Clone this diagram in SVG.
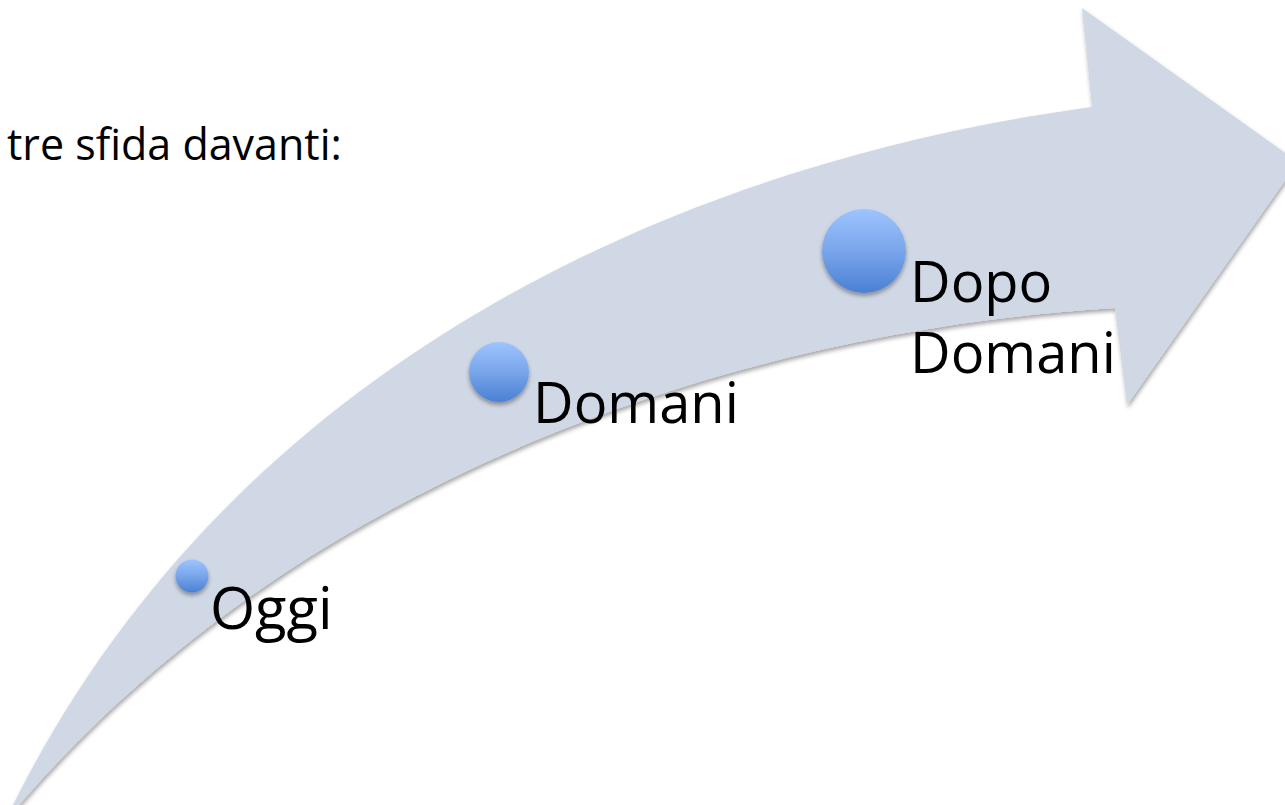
<svg xmlns="http://www.w3.org/2000/svg" width="1285" height="805" viewBox="0 0 1285 805">
<defs>
<style>
.lbl{font-family:"Open Sans","Liberation Sans",sans-serif;fill:#000;}
.big{font-size:56px;}
.title{font-size:43px;}
.dot{fill:url(#dotGrad);filter:url(#dotShadow);}
</style>
<linearGradient id="dotGrad" x1="0" y1="0" x2="0" y2="1">
<stop offset="0" stop-color="#9ec4ff"/>
<stop offset="0.5" stop-color="#79a5ea"/>
<stop offset="1" stop-color="#4a80d3"/>
</linearGradient>
<filter id="arrowShadow" x="-5%" y="-5%" width="110%" height="110%">
<feDropShadow dx="1" dy="3" stdDeviation="2" flood-color="#000" flood-opacity="0.35"/>
</filter>
<filter id="dotShadow" x="-30%" y="-30%" width="160%" height="170%">
<feDropShadow dx="0" dy="3" stdDeviation="2" flood-color="#000" flood-opacity="0.35"/>
</filter>
</defs>
<rect width="1285" height="805" fill="#ffffff"/>
<g id="arrow">
<path d="M 13 805 C 240 350 700 160 1092 107 L 1082 8 L 1298 162 L 1127 405 L 1115 308 C 750 330 308 470 19 805 Z" fill="#d0d8e6" filter="url(#arrowShadow)"/>
</g>
<g id="connectors"></g>
<text id="title" class="lbl title" x="7" y="160">tre sfida davanti:</text>
<g id="node-oggi">
<circle class="dot" cx="192" cy="576" r="16.5"/>
<text class="lbl big" x="210" y="629" style="font-size:58px">Oggi</text>
</g>
<g id="node-domani">
<circle class="dot" cx="499" cy="372" r="30"/>
<text class="lbl big" x="533" y="423">Domani</text>
</g>
<g id="node-dopo-domani">
<circle class="dot" cx="864" cy="251" r="42"/>
<text class="lbl big" x="910" y="302">Dopo</text>
<text class="lbl big" x="910" y="373">Domani</text>
</g>
</svg>
